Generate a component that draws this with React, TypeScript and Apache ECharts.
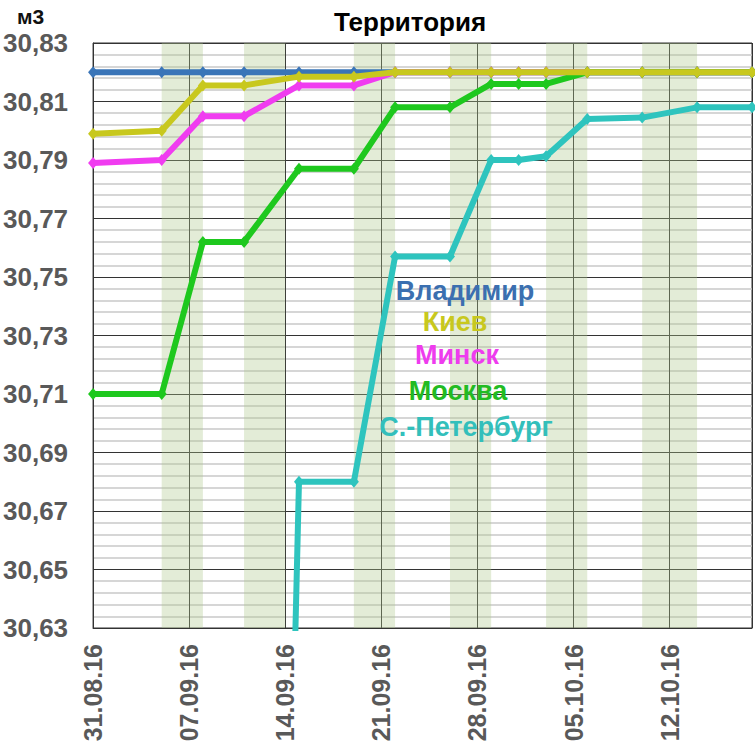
import React, { useEffect, useRef } from "react";
import * as echarts from "echarts";

// ---- data ----
const dates = [
  "31.08.16", "05.09.16", "08.09.16", "11.09.16", "15.09.16", "19.09.16", "22.09.16",
  "26.09.16", "29.09.16", "01.10.16", "03.10.16", "06.10.16", "10.10.16", "14.10.16", "18.10.16",
];
const seriesNames = ["Владимир", "Киев", "Минск", "Москва", "С.-Петербург"];
const vladimir = [30.82, 30.82, 30.82, 30.82, 30.82, 30.82, 30.82, 30.82, 30.82, 30.82, 30.82, 30.82, 30.82, 30.82, 30.82];
const kiev = [30.799, 30.8, 30.8155, 30.8155, 30.8185, 30.8185, 30.82, 30.82, 30.82, 30.82, 30.82, 30.82, 30.82, 30.82, 30.82];
const minsk = [30.789, 30.79, 30.805, 30.805, 30.8155, 30.8155, 30.82, 30.82, 30.82, 30.82, 30.82, 30.82, 30.82, 30.82, 30.82];
const moskva = [30.71, 30.71, 30.762, 30.762, 30.787, 30.787, 30.808, 30.808, 30.816, 30.816, 30.816, 30.82, 30.82, 30.82, 30.82];
const spb = [null, null, null, 29.9, 30.68, 30.68, 30.757, 30.757, 30.79, 30.79, 30.7913, 30.804, 30.8045, 30.808, 30.808];
// shaded periods (start date, end date)
const bands = [
  ["05.09.16", "08.09.16"],
  ["11.09.16", "14.09.16"],
  ["19.09.16", "22.09.16"],
  ["26.09.16", "29.09.16"],
  ["03.10.16", "06.10.16"],
  ["10.10.16", "14.10.16"],
];
const xStart = "31.08.16";
const xEnd = "18.10.16";
const yMin = 30.63;
const yMax = 30.83;
const yStep = 0.02;
const xStepDays = 7;

// ---- styles ----
const lineColors = ["#3A75B8", "#C8C81E", "#F03CF0", "#1EC81E", "#2EC4BE"];
const legendColors = ["#3B6FB0", "#C8C81E", "#EE3CEE", "#22BB22", "#33BFBB"];
const drawOrder = [0, 2, 3, 4, 1];
const FONT = "'Liberation Sans', Arial, sans-serif";
const DAY = 86400000;

function parseDate(s: string): number {
  const [d, m, y] = s.split(".").map(Number);
  return Date.UTC(2000 + y, m - 1, d);
}
const base = parseDate(xStart);
const toDay = (s: string) => Math.round((parseDate(s) - base) / DAY);
const fmtDay = (v: number) => {
  const d = new Date(base + Math.round(v) * DAY);
  const p = (n: number) => String(n).padStart(2, "0");
  return `${p(d.getUTCDate())}.${p(d.getUTCMonth() + 1)}.${p(d.getUTCFullYear() % 100)}`;
};

export default function App() {
  const ref = useRef<HTMLDivElement>(null);
  useEffect(() => {
    if (!ref.current) return;
    const chart = echarts.init(ref.current, undefined, { renderer: "svg" });
    const all = [vladimir, kiev, minsk, moskva, spb];
    const xs = dates.map(toDay);
    const series = drawOrder.map((i, k) => ({
      type: "line",
      name: seriesNames[i],
      data: all[i].map((v, j) => [xs[j], v == null ? null : v - yMin]),
      lineStyle: { color: lineColors[i], width: 6 },
      itemStyle: { color: lineColors[i] },
      symbol: "diamond",
      symbolSize: [10, 12],
      showSymbol: true,
      clip: true,
      z: 3 + k,
      ...(k === 0
        ? {
            markArea: {
              silent: true,
              itemStyle: { color: "rgba(175,200,140,0.35)" },
              data: bands.map(([a, b]) => [{ xAxis: toDay(a) }, { xAxis: toDay(b) }]),
            },
          }
        : {}),
    }));
    const legendX = [465, 455, 457, 458, 466];
    const legendY = [291, 322, 355, 391, 427];
    chart.setOption({
      animation: false,
      title: {
        text: "Территория",
        left: 405,
        top: 4,
        textAlign: "center",
        textStyle: { fontFamily: FONT, fontWeight: "bold", fontSize: 26, color: "#000" },
      },
      grid: { left: 91, right: 3, top: 43, bottom: 128, show: true, borderColor: "#333", borderWidth: 1, backgroundColor: "transparent" },
      xAxis: {
        type: "value",
        min: 0,
        max: toDay(xEnd),
        interval: xStepDays,
        axisLine: { show: true, lineStyle: { color: "#333", width: 1 } },
        axisTick: { show: false },
        splitLine: { show: true, lineStyle: { color: "#333", width: 1 } },
        axisLabel: {
          rotate: 90,
          margin: 16,
          showMaxLabel: false,
          fontFamily: FONT,
          fontWeight: "bold",
          fontSize: 25,
          color: "#595959",
          formatter: (v: number) => fmtDay(v),
        },
      },
      yAxis: {
        type: "value",
        min: 0,
        max: +(yMax - yMin).toFixed(4),
        interval: yStep,
        axisLine: { show: true, lineStyle: { color: "#333", width: 1 } },
        axisTick: { show: false },
        splitLine: { show: true, lineStyle: { color: "#333", width: 1 } },
        minorTick: { show: false, splitNumber: 5 },
        minorSplitLine: { show: true, lineStyle: { color: "#C8C8C8", width: 1.5 } },
        axisLabel: {
          margin: 25,
          fontFamily: FONT,
          fontWeight: "bold",
          fontSize: 26,
          color: "#595959",
          formatter: (v: number) => (yMin + v).toFixed(2).replace(".", ","),
        },
      },
      graphic: [
        {
          type: "text",
          left: 17,
          top: 6,
          style: { text: "м3", fontFamily: FONT, fontWeight: "bold", fontSize: 21, fill: "#111" },
        },
        ...seriesNames.map((n, i) => ({
          type: "text",
          x: legendX[i],
          y: legendY[i],
          z: 100,
          style: {
            text: n,
            textAlign: "center",
            textVerticalAlign: "middle",
            fontFamily: FONT,
            fontWeight: "bold",
            fontSize: 27,
            fill: legendColors[i],
          },
        })),
      ],
      series,
    });
    return () => chart.dispose();
  }, []);
  return (
    <div
      ref={ref}
      style={{ position: "absolute", left: 0, top: 0, width: 755, height: 756, background: "#fff" }}
    />
  );
}
